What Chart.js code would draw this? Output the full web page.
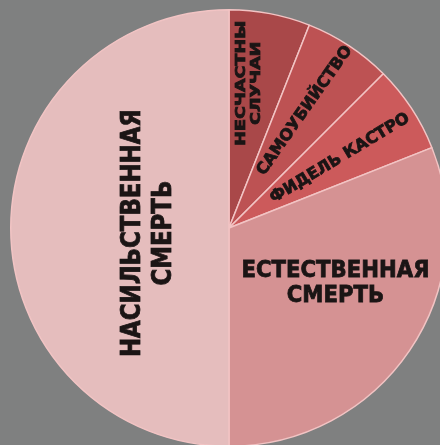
<!DOCTYPE html>
<html>
<head>
<meta charset="utf-8">
<script src="https://cdn.jsdelivr.net/npm/chart.js@4.4.0/dist/chart.umd.min.js"></script>
<style>
  html, body { margin: 0; padding: 0; width: 440px; height: 445px; overflow: hidden; background: #7f8080; }
  #wrap { position: absolute; left: 10px; top: 9px; width: 438px; height: 438px; }
</style>
</head>
<body>
<div id="wrap"><canvas id="myChart"></canvas></div>
<script>
// data
const categories = ['несчастны случаи', 'самоубийство', 'Фидель Кастро', 'естественная смерть', 'насильственная смерть'];
const shares = [6, 6.5, 6.5, 31, 50];
const sliceColors = ['#a94849', '#bd5253', '#cc5a5b', '#d59293', '#e5bdbd'];

// label layout (style only)
const labelLines = [['несчастны', 'случаи'], ['самоубийство'], ['Фидель Кастро'], ['естественная', 'смерть'], ['насильственная', 'смерть']];
const labelRot = [-90, -55, -31, 0, -90];
const labelFrac = [0.37, 0.48, 0.55, 0.44, 0.48];
const labelRad = [0.67, 0.64, 0.6, 0.55, 0.37];
const labelSize = [14, 16, 16, 23, 26];
const labelLen = [125, 154, 160, 188, 248];
const labelGap = [15, 0, 0, 25, 31];

//label plugin
const sliceLabels = {
    id: 'sliceLabels',
    afterDatasetsDraw(chart) {
        const ctx = chart.ctx;
        const arcs = chart.getDatasetMeta(0).data;
        arcs.forEach((arc, i) => {
            const p = arc.getProps(['x', 'y', 'startAngle', 'endAngle', 'outerRadius'], true);
            const a = p.startAngle + labelFrac[i] * (p.endAngle - p.startAngle);
            const cx = p.x + Math.cos(a) * labelRad[i] * p.outerRadius;
            const cy = p.y + Math.sin(a) * labelRad[i] * p.outerRadius;
            ctx.save();
            ctx.translate(cx, cy);
            ctx.rotate(labelRot[i] * Math.PI / 180);
            ctx.font = 'bold ' + labelSize[i] + 'px "DejaVu Sans"';
            ctx.fillStyle = '#1b1515';
            ctx.strokeStyle = '#1b1515';
            ctx.lineWidth = 0.8;
            ctx.textAlign = 'center';
            ctx.textBaseline = 'middle';
            const lines = labelLines[i].map(s => s.toUpperCase());
            const w = Math.max(...lines.map(s => ctx.measureText(s).width));
            const sx = labelLen[i] / w;
            const n = lines.length;
            lines.forEach((s, k) => {
                const dy = (k - (n - 1) / 2) * labelGap[i];
                ctx.save();
                ctx.translate(0, dy);
                ctx.scale(sx, 1);
                ctx.fillText(s, 0, 0);
                ctx.strokeText(s, 0, 0);
                ctx.restore();
            });
            ctx.restore();
        });
    }
};

//config block
const config = {
    type: 'pie',
    data: {
        labels: categories,
        datasets: [{
            data: shares,
            backgroundColor: sliceColors,
            borderColor: '#f2c4c4',
            borderWidth: 1.5
        }]
    },
    options: {
        responsive: true,
        maintainAspectRatio: false,
        animation: false,
        layout: { padding: 0 },
        plugins: {
            legend: { display: false },
            tooltip: { enabled: false }
        }
    },
    plugins: [sliceLabels]
};

//render block
const myChart = new Chart(document.getElementById('myChart'), config);
</script>
</body>
</html>
